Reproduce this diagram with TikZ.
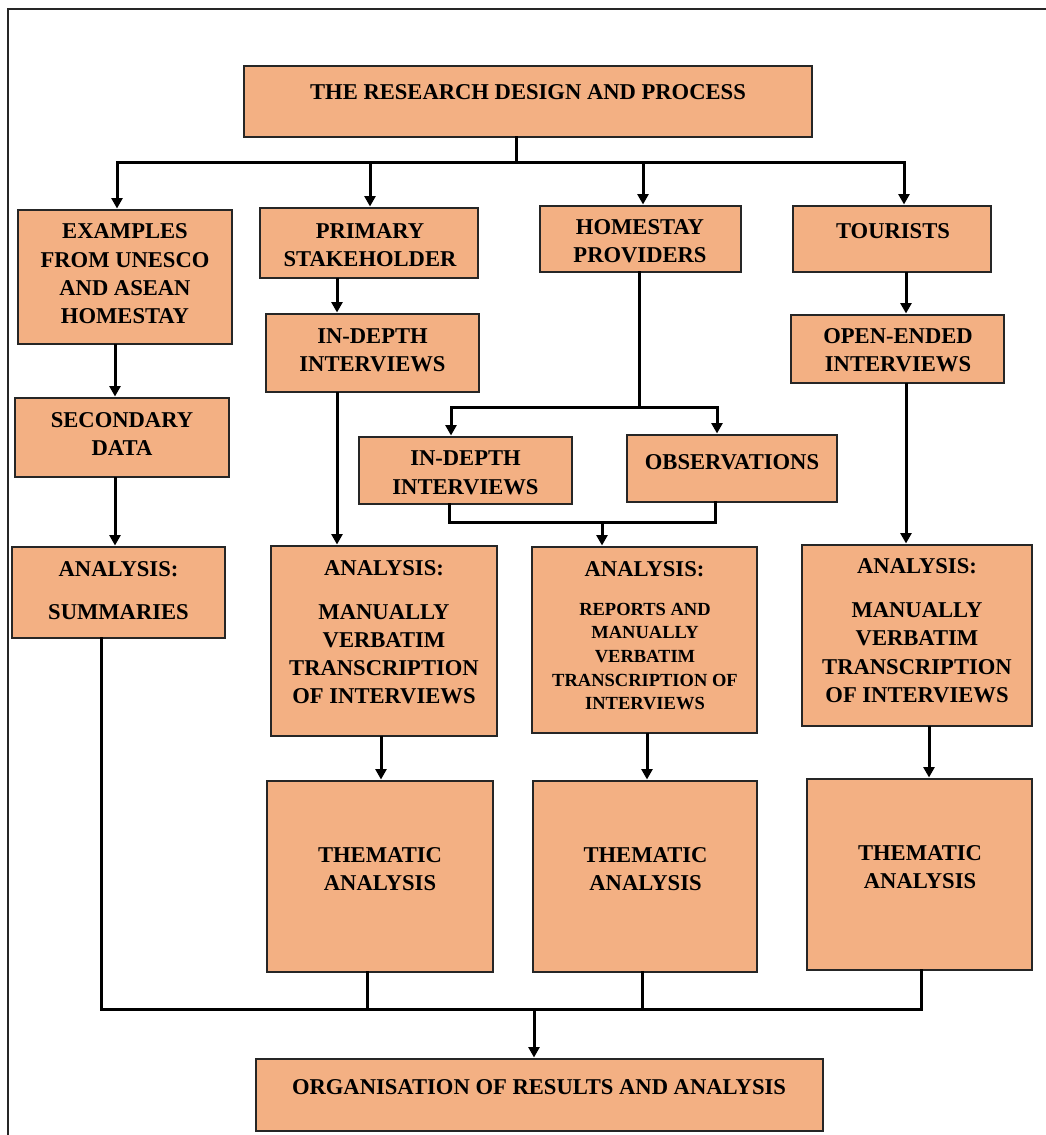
\documentclass[tikz,border=0pt]{standalone}
\usepackage{fontspec}
\setmainfont{Liberation Serif}
\usetikzlibrary{arrows.meta}

\definecolor{boxfill}{RGB}{243,176,131}
\definecolor{boxline}{RGB}{38,38,38}

% box given by its corners: name, x1, y1, x2, y2
\newcommand\flowbox[5]{%
  \node[box, minimum width={(#4-#2)*1pt}, minimum height={(#5-#3)*1pt}]
    (#1) at ({(#2+#4)/2},{(#3+#5)/2}) {};}

\begin{document}
\begin{tikzpicture}[x=1pt,y=-1pt,
  box/.style={draw=boxline, fill=boxfill, line width=1.9pt, inner sep=0pt, outer sep=0pt},
  lbl/.style={inner sep=0pt, align=center, font=\bfseries\fontsize{22.6}{28.2}\selectfont},
  lblsmall/.style={inner sep=0pt, align=center, font=\bfseries\fontsize{18.5}{23.6}\selectfont},
  conn/.style={line width=3pt, line cap=rect, line join=miter},
  arr/.style={line width=3pt, -{Triangle[length=10.5pt,width=11pt]}, shorten >=1.5pt},
  frame/.style={line width=2pt, draw=boxline}]
\useasboundingbox (0,0) rectangle (1045,1135);

% outer frame (left and top sides)
\draw[frame] (8,1140) -- (8,9) -- (1050,9);

% boxes
\flowbox{top}{244}{66}{812}{137}
\flowbox{ex}{18}{210}{232}{344}
\flowbox{pri}{260}{208}{478}{278}
\flowbox{hp}{540}{206}{741}{272}
\flowbox{tour}{793}{206}{991}{272}
\flowbox{idA}{266}{314}{479}{392}
\flowbox{oe}{791}{315}{1004}{383}
\flowbox{sec}{15}{398}{229}{477}
\flowbox{sum}{12}{547}{225}{638}
\flowbox{idB}{359}{437}{572}{504}
\flowbox{obs}{627}{435}{837}{502}
\flowbox{anA}{271}{546}{497}{736}
\flowbox{anB}{532}{547}{757}{733}
\flowbox{anC}{802}{545}{1032}{726}
\flowbox{thA}{267}{781}{493}{972}
\flowbox{thB}{533}{781}{757}{972}
\flowbox{thC}{807}{779}{1032}{970}
\flowbox{org}{256}{1059}{823}{1131}

% texts
\node[lbl] (top-t) at (528,92.5) {THE RESEARCH DESIGN AND PROCESS};
\node[lbl] (ex-t) at (125,273.8) {EXAMPLES\\FROM UNESCO\\AND ASEAN\\HOMESTAY};
\node[lbl] (pri-t) at (370,245) {PRIMARY\\STAKEHOLDER};
\node[lbl] (hp-t) at (640,241.5) {HOMESTAY\\PROVIDERS};
\node[lbl] (tour-t) at (893,230.7) {TOURISTS};
\node[lbl] (idA-t) at (372.5,350.5) {IN-DEPTH\\INTERVIEWS};
\node[lbl] (oe-t) at (898,350.5) {OPEN-ENDED\\INTERVIEWS};
\node[lbl] (sec-t) at (122,434) {SECONDARY\\DATA};
\node[lbl] (sum-t) at (118.5,590.5) {ANALYSIS:\\[15pt]SUMMARIES};
\node[lbl] (idB-t) at (465.5,472.7) {IN-DEPTH\\INTERVIEWS};
\node[lbl] (obs-t) at (732,462) {OBSERVATIONS};
\node[lbl] (anA-t) at (384,632.5) {ANALYSIS:\\[15pt]MANUALLY\\VERBATIM\\TRANSCRIPTION\\OF INTERVIEWS};
\node[lbl] (anB-h) at (644.5,569.2) {ANALYSIS:};
\node[lblsmall] (anB-t) at (645,656.5) {REPORTS AND\\MANUALLY\\VERBATIM\\TRANSCRIPTION OF\\INTERVIEWS};
\node[lbl] (anC-t) at (917,630.7) {ANALYSIS:\\[15.6pt]MANUALLY\\VERBATIM\\TRANSCRIPTION\\OF INTERVIEWS};
\node[lbl] (thA-t) at (380,869.5) {THEMATIC\\ANALYSIS};
\node[lbl] (thB-t) at (645.5,869.5) {THEMATIC\\ANALYSIS};
\node[lbl] (thC-t) at (920,867.2) {THEMATIC\\ANALYSIS};
\node[lbl] (org-t) at (539,1087.5) {ORGANISATION OF RESULTS AND ANALYSIS};

% junction points
\coordinate (busT) at (516,162);
\coordinate (busL) at (117,162);
\coordinate (busP) at (370,162);
\coordinate (busH) at (643,162);
\coordinate (busR) at (904,162);
\coordinate (xEx) at (115,0);
\coordinate (xPri) at (337,0);
\coordinate (xTour) at (906,0);
\coordinate (hpB) at (639,407);
\coordinate (spL) at (451,407);
\coordinate (spR) at (717,407);
\coordinate (mL) at (449,522);
\coordinate (mR) at (715,522);
\coordinate (mA) at (602,522);
\coordinate (xAnA) at (381,0);
\coordinate (xAnB) at (647,0);
\coordinate (xAnC) at (929,0);
\coordinate (botL) at (101,1009);
\coordinate (botA) at (367,1009);
\coordinate (botB) at (642,1009);
\coordinate (botR) at (921,1009);
\coordinate (botM) at (534,1009);

% top distribution
\draw[conn] (top.south -| busT) -- (busT);
\draw[conn] (busL) -- (busR);
\draw[arr] (busL) -- (busL |- ex.north);
\draw[arr] (busP) -- (busP |- pri.north);
\draw[arr] (busH) -- (busH |- hp.north);
\draw[arr] (busR) -- (busR |- tour.north);

% column flows
\draw[arr] (ex.south -| xEx) -- (sec.north -| xEx);
\draw[arr] (sec.south -| xEx) -- (sum.north -| xEx);
\draw[arr] (pri.south -| xPri) -- (idA.north -| xPri);
\draw[arr] (idA.south -| xPri) -- (anA.north -| xPri);
\draw[arr] (tour.south -| xTour) -- (oe.north -| xTour);
\draw[arr] (oe.south -| xTour) -- (anC.north -| xTour);

% homestay providers split and merge
\draw[conn] (hp.south -| hpB) -- (hpB);
\draw[conn] (spL) -- (spR);
\draw[arr] (spL) -- (spL |- idB.north);
\draw[arr] (spR) -- (spR |- obs.north);
\draw[conn] (idB.south -| mL) -- (mL) -- (mR) -- (obs.south -| mR);
\draw[arr] (mA) -- (mA |- anB.north);

% analysis to thematic analysis
\draw[arr] (anA.south -| xAnA) -- (thA.north -| xAnA);
\draw[arr] (anB.south -| xAnB) -- (thB.north -| xAnB);
\draw[arr] (anC.south -| xAnC) -- (thC.north -| xAnC);

% collection to results
\draw[conn] (sum.south -| botL) -- (botL) -- (botR) -- (thC.south -| botR);
\draw[conn] (thA.south -| botA) -- (botA);
\draw[conn] (thB.south -| botB) -- (botB);
\draw[arr] (botM) -- (botM |- org.north);
\end{tikzpicture}
\end{document}
